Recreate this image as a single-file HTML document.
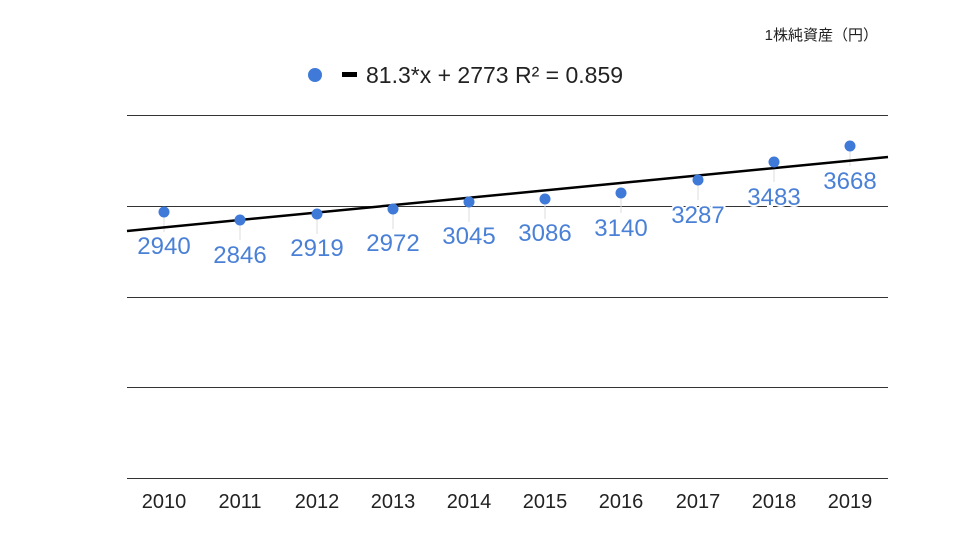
<!DOCTYPE html>
<html><head><meta charset="utf-8"><style>body{margin:0;background:#fff}svg{display:block}</style></head><body>
<svg width="960" height="540" xmlns="http://www.w3.org/2000/svg" font-family="Liberation Sans, Noto Sans CJK JP, sans-serif">
<rect width="960" height="540" fill="#fff"/>
<text x="878" y="40" font-size="15" text-anchor="end" fill="#222">1株純資産（円）</text>
<circle cx="315" cy="75" r="7" fill="#3f7ad9"/>
<rect x="342" y="72" width="15" height="5" fill="#000"/>
<text x="366" y="83" font-size="23" fill="#222">81.3*x + 2773 R² = 0.859</text>
<g stroke="#333" stroke-width="1">
<line x1="127" y1="115.5" x2="888" y2="115.5"/>
<line x1="127" y1="206.5" x2="888" y2="206.5"/>
<line x1="127" y1="297.5" x2="888" y2="297.5"/>
<line x1="127" y1="387.5" x2="888" y2="387.5"/>
<line x1="127" y1="478.5" x2="888" y2="478.5"/>
</g>
<g stroke="#ddd" stroke-width="1">
<line x1="164" y1="212" x2="164" y2="232"/><line x1="240" y1="220" x2="240" y2="240"/><line x1="317" y1="214" x2="317" y2="234"/><line x1="393" y1="209" x2="393" y2="229"/><line x1="469" y1="202" x2="469" y2="222"/><line x1="545" y1="199" x2="545" y2="219"/><line x1="621" y1="193" x2="621" y2="213"/><line x1="698" y1="180" x2="698" y2="200"/><line x1="774" y1="162" x2="774" y2="182"/><line x1="850" y1="146" x2="850" y2="166"/>
</g>
<g font-size="24" fill="#4a80d6" text-anchor="middle" stroke="#fff" stroke-width="4" paint-order="stroke">
<text x="164" y="254">2940</text><text x="240" y="263">2846</text><text x="317" y="256">2919</text><text x="393" y="251">2972</text><text x="469" y="244">3045</text><text x="545" y="241">3086</text><text x="621" y="236">3140</text><text x="698" y="223">3287</text><text x="774" y="205">3483</text><text x="850" y="189">3668</text>
</g>
<line x1="127" y1="231" x2="888" y2="157" stroke="#000" stroke-width="2.5"/>
<g fill="#3f7ad9">
<circle cx="164" cy="212" r="5.5"/><circle cx="240" cy="220" r="5.5"/><circle cx="317" cy="214" r="5.5"/><circle cx="393" cy="209" r="5.5"/><circle cx="469" cy="202" r="5.5"/><circle cx="545" cy="199" r="5.5"/><circle cx="621" cy="193" r="5.5"/><circle cx="698" cy="180" r="5.5"/><circle cx="774" cy="162" r="5.5"/><circle cx="850" cy="146" r="5.5"/>
</g>
<g font-size="20" fill="#222" text-anchor="middle">
<text x="164" y="508">2010</text><text x="240" y="508">2011</text><text x="317" y="508">2012</text><text x="393" y="508">2013</text><text x="469" y="508">2014</text><text x="545" y="508">2015</text><text x="621" y="508">2016</text><text x="698" y="508">2017</text><text x="774" y="508">2018</text><text x="850" y="508">2019</text>
</g>
</svg>
</body></html>
